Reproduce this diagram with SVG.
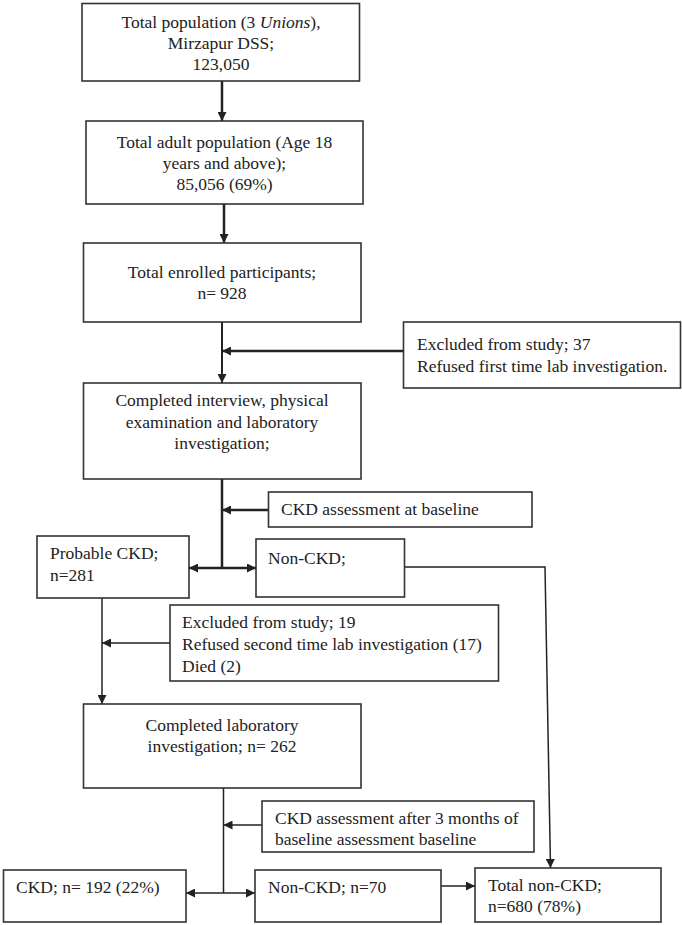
<svg xmlns="http://www.w3.org/2000/svg" width="682" height="925" viewBox="0 0 682 925">
<defs>
<marker id="ah" viewBox="0 0 10 10" refX="10" refY="5" markerWidth="9" markerHeight="9" markerUnits="userSpaceOnUse" orient="auto-start-reverse">
<path d="M0,0 L10,5 L0,10 z" fill="#222"/>
</marker>
<style>
rect{fill:#fff;stroke:#333;stroke-width:1.6}
text{font-family:"Liberation Serif","Times New Roman",serif;font-size:17.5px;fill:#222}
.c{text-anchor:middle}
.ln{fill:none;stroke:#222;stroke-width:1.5}
.th{stroke-width:2.5}
</style>
</defs>
<rect x="0" y="0" width="682" height="925" style="fill:#fff;stroke:none"/>
<g id="connectors">
<line class="ln th" x1="222" y1="81" x2="222" y2="121" marker-end="url(#ah)"/>
<line class="ln th" x1="224" y1="204" x2="224" y2="243" marker-end="url(#ah)"/>
<line class="ln" x1="222" y1="322" x2="222" y2="383" marker-end="url(#ah)" style="stroke-width:2"/>
<line class="ln th" x1="403.5" y1="351" x2="222" y2="351" marker-end="url(#ah)"/>
<line class="ln th" x1="222" y1="479" x2="222" y2="568"/>
<line class="ln th" x1="268.5" y1="510" x2="222" y2="510" marker-end="url(#ah)"/>
<line class="ln th" x1="189" y1="568" x2="256" y2="568" marker-start="url(#ah)" marker-end="url(#ah)"/>
<polyline class="ln" points="404.5,567 545,567 550.5,868" marker-end="url(#ah)"/>
<line class="ln" x1="102" y1="598" x2="102" y2="704" marker-end="url(#ah)"/>
<line class="ln" x1="170" y1="643" x2="102" y2="643" marker-end="url(#ah)"/>
<line class="ln" x1="223.5" y1="788" x2="223.5" y2="893"/>
<line class="ln" x1="262" y1="825" x2="223.5" y2="825" marker-end="url(#ah)"/>
<line class="ln" x1="186" y1="893" x2="255" y2="893" marker-start="url(#ah)" marker-end="url(#ah)"/>
<line class="ln" x1="441" y1="886" x2="475" y2="886" marker-end="url(#ah)"/>
</g>
<g id="total-population">
<rect x="82" y="3.5" width="277.5" height="77.5"/>
<text class="c" x="221" y="27.5">Total population (3 <tspan font-style="italic">Unions</tspan>),</text>
<text class="c" x="221" y="48.5">Mirzapur DSS;</text>
<text class="c" x="221" y="69.5">123,050</text>
</g>
<g id="adult-population">
<rect x="86" y="121" width="277" height="83"/>
<text class="c" x="224.5" y="147.5">Total adult population (Age 18</text>
<text class="c" x="224.5" y="168.5">years and above);</text>
<text class="c" x="224.5" y="189.5">85,056 (69%)</text>
</g>
<g id="enrolled">
<rect x="83.5" y="243" width="277.5" height="79"/>
<text class="c" x="222" y="277.5">Total enrolled participants;</text>
<text class="c" x="222" y="298.5">n= 928</text>
</g>
<g id="excluded-37">
<rect x="403.5" y="322" width="277" height="66"/>
<text x="417" y="349.5">Excluded from study; 37</text>
<text x="417" y="371.5">Refused first time lab investigation.</text>
</g>
<g id="completed-interview">
<rect x="83.5" y="383" width="277.5" height="96"/>
<text class="c" x="222" y="405.5">Completed interview, physical</text>
<text class="c" x="222" y="427.5">examination and laboratory</text>
<text class="c" x="222" y="448.5">investigation;</text>
</g>
<g id="ckd-baseline">
<rect x="268.5" y="492" width="263.5" height="35"/>
<text x="281" y="514.5">CKD assessment at baseline</text>
</g>
<g id="probable-ckd">
<rect x="37" y="536" width="152" height="62"/>
<text x="50" y="558.5">Probable CKD;</text>
<text x="50" y="580.5">n=281</text>
</g>
<g id="non-ckd-1">
<rect x="256" y="539" width="148.5" height="58"/>
<text x="268" y="563.5">Non-CKD;</text>
</g>
<g id="excluded-19">
<rect x="170" y="605" width="328.5" height="76"/>
<text x="182" y="627.5">Excluded from study; 19</text>
<text x="182" y="649.5">Refused second time lab investigation (17)</text>
<text x="182" y="671.5">Died (2)</text>
</g>
<g id="completed-lab">
<rect x="83.5" y="704" width="277.5" height="84"/>
<text class="c" x="222" y="730.5">Completed laboratory</text>
<text class="c" x="222" y="751.5">investigation; n= 262</text>
</g>
<g id="ckd-3months">
<rect x="262" y="801" width="272" height="51"/>
<text x="275" y="823.5">CKD assessment after 3 months of</text>
<text x="275" y="844.5">baseline assessment baseline</text>
</g>
<g id="ckd">
<rect x="3.5" y="870" width="182.5" height="52"/>
<text x="16" y="892.5">CKD; n= 192 (22%)</text>
</g>
<g id="non-ckd-2">
<rect x="255" y="870" width="186" height="52"/>
<text x="268" y="892.5">Non-CKD; n=70</text>
</g>
<g id="total-non-ckd">
<rect x="475" y="868" width="186" height="54"/>
<text x="488" y="890.5">Total non-CKD;</text>
<text x="488" y="911.5">n=680 (78%)</text>
</g>
</svg>
